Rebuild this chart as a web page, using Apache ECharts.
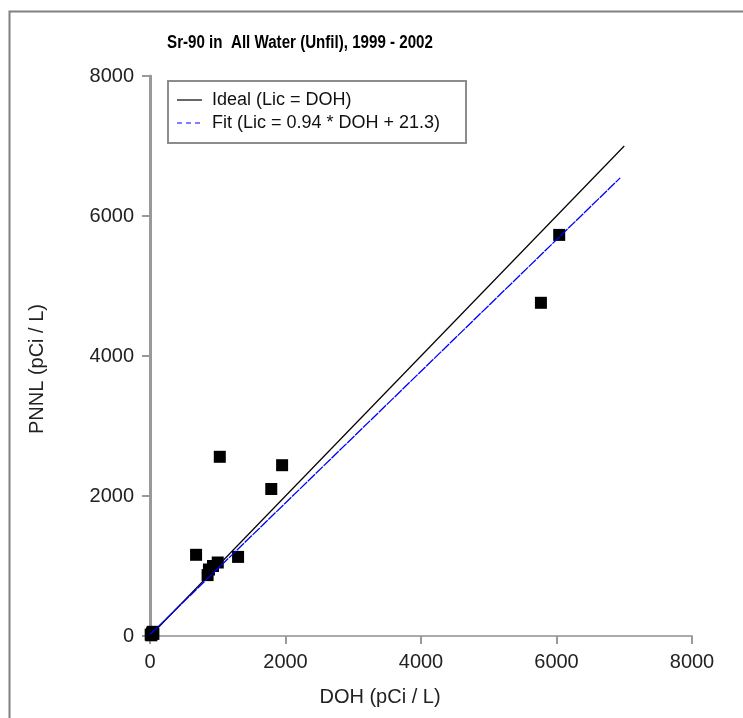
<!DOCTYPE html>
<html>
<head>
<meta charset="utf-8">
<title>Sr-90 in All Water (Unfil), 1999 - 2002</title>
<script src="https://cdn.jsdelivr.net/npm/echarts@6/dist/echarts.min.js"></script>
<style>
  html, body { margin: 0; padding: 0; background: #ffffff; }
  #chart { width: 743px; height: 718px; }
</style>
</head>
<body>
<div id="chart"></div>
<script>
// Paired Sr-90 results: DOH measurement (x) vs. PNNL measurement (y), pCi/L
var dohValues  = [10, 30, 50, 20, 40, 680, 850, 870, 930, 1000, 1300, 1030, 1790, 1950, 5770, 6040];
var pnnlValues = [20, 40, 30, 10, 60, 1160, 870, 950, 1000, 1050, 1130, 2560, 2100, 2440, 4760, 5730];

// Reference line (Lic = DOH) endpoints
var idealX = [0, 7000];
var idealY = [0, 7000];

// Regression line (Lic = 0.94 * DOH + 21.3) endpoints
var fitX = [0, 6940];
var fitY = [21.3, 6544.9];

var axisTicks = [0, 2000, 4000, 6000, 8000];

var chartTitle = 'Sr-90 in  All Water (Unfil), 1999 - 2002';
var xTitle = 'DOH (pCi / L)';
var yTitle = 'PNNL (pCi / L)';
var idealName = 'Ideal (Lic = DOH)';
var fitName = 'Fit (Lic = 0.94 * DOH + 21.3)';

var IDEAL_COLOR = '#000000';
var FIT_COLOR = '#0000ff';

function pairs(xs, ys) {
  return xs.map(function (x, i) { return [x, ys[i]]; });
}

var FONT = '"Liberation Sans", Arial, sans-serif';

var chart = echarts.init(document.getElementById('chart'), null, { renderer: 'canvas' });

var axisCommon = {
  type: 'value',
  min: axisTicks[0],
  max: axisTicks[axisTicks.length - 1],
  interval: axisTicks[1] - axisTicks[0],
  splitLine: { show: false },
  axisTick: { show: true, length: 8, lineStyle: { color: '#999999', width: 2 } },
  axisLabel: {
    color: '#222222', fontFamily: FONT, fontSize: 20,
    formatter: function (v) { return String(v); }
  }
};

chart.setOption({
  animation: false,
  backgroundColor: '#ffffff',
  grid: { left: 150, right: 51, top: 76, bottom: 82, containLabel: false },
  xAxis: Object.assign({}, axisCommon, {
    axisLine: { show: true, onZero: false, lineStyle: { color: '#aaaaaa', width: 2 } },
    axisLabel: Object.assign({}, axisCommon.axisLabel, { margin: 16 })
  }),
  yAxis: Object.assign({}, axisCommon, {
    axisLine: { show: true, onZero: false, lineStyle: { color: '#999999', width: 3 } },
    axisLabel: Object.assign({}, axisCommon.axisLabel, { margin: 16 })
  }),
  graphic: [
    // outer frame of the figure
    { type: 'rect', left: 7, top: 9, shape: { width: 800, height: 800 },
      style: { fill: 'none', stroke: '#808080', lineWidth: 2 }, silent: true },
    // legend: frame, line keys and labels
    { type: 'rect', left: 167, top: 80, shape: { width: 298, height: 62 },
      style: { fill: '#ffffff', stroke: '#8c8c8c', lineWidth: 2 }, z: 10, silent: true },
    { type: 'line', shape: { x1: 177, y1: 100, x2: 202, y2: 100 },
      style: { stroke: IDEAL_COLOR, lineWidth: 1.2 }, z: 11, silent: true },
    { type: 'line', shape: { x1: 177, y1: 123, x2: 202, y2: 123 },
      style: { stroke: FIT_COLOR, lineWidth: 1.2, lineDash: [5, 4] }, z: 11, silent: true },
    { type: 'text', x: 212, y: 100, z: 11,
      style: { text: idealName, font: '18px ' + FONT, fill: '#111111', textVerticalAlign: 'middle', verticalAlign: 'middle' } },
    { type: 'text', x: 212, y: 123, z: 11,
      style: { text: fitName, font: '18px ' + FONT, fill: '#111111', textVerticalAlign: 'middle', verticalAlign: 'middle' } },
    // chart title (narrow bold face) and axis titles
    { type: 'text', x: 300, y: 43, scaleX: 0.84, z: 11,
      style: { text: chartTitle, font: 'bold 18px ' + FONT, fill: '#000000', align: 'center', textAlign: 'center', verticalAlign: 'middle', textVerticalAlign: 'middle' } },
    { type: 'text', x: 380, y: 697, z: 11,
      style: { text: xTitle, font: '20px ' + FONT, fill: '#222222', align: 'center', textAlign: 'center', verticalAlign: 'middle', textVerticalAlign: 'middle' } },
    { type: 'text', x: 37, y: 369, rotation: Math.PI / 2, z: 11,
      style: { text: yTitle, font: '20px ' + FONT, fill: '#222222', align: 'center', textAlign: 'center', verticalAlign: 'middle', textVerticalAlign: 'middle' } }
  ],
  series: [
    {
      name: 'Samples',
      type: 'scatter',
      symbol: 'rect',
      symbolSize: 12,
      itemStyle: { color: '#000000', opacity: 1 },
      data: pairs(dohValues, pnnlValues),
      z: 2
    },
    {
      name: idealName,
      type: 'line',
      symbol: 'none',
      lineStyle: { color: IDEAL_COLOR, width: 1.2 },
      data: pairs(idealX, idealY),
      z: 3
    },
    {
      name: fitName,
      type: 'line',
      symbol: 'none',
      lineStyle: { color: FIT_COLOR, width: 1.3, type: [10, 1] },
      data: pairs(fitX, fitY),
      z: 4
    }
  ]
});
</script>
</body>
</html>
